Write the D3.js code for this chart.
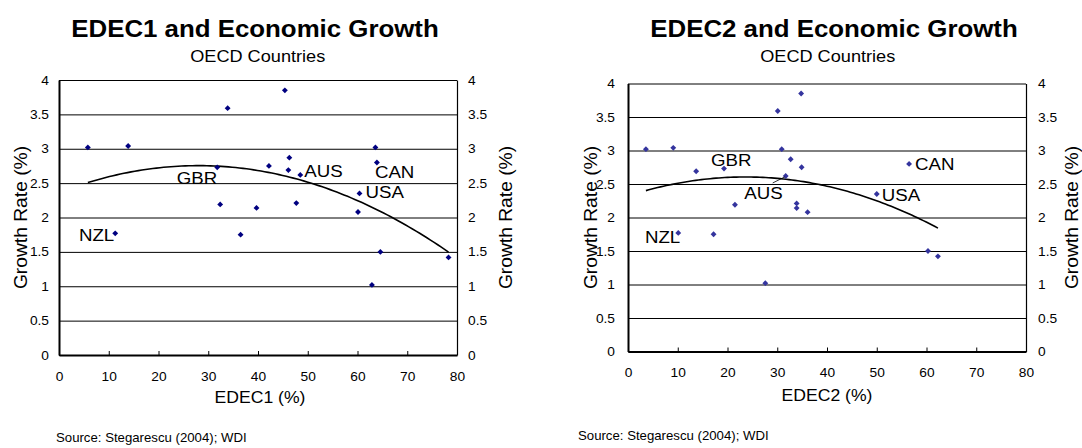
<!DOCTYPE html>
<html>
<head>
<meta charset="utf-8">
<script src="https://cdn.jsdelivr.net/npm/d3@7"></script>
<style>
  body { margin: 0; background: #fff; }
  svg { display: block; }
  text { font-family: "Liberation Sans", Arial, sans-serif; fill: #000; }
</style>
</head>
<body>
<script>
// Growth rate (%) per OECD country, same order in both panels
var growth = [3.02, 3.04, 3.59, 3.85, 2.73, 2.19, 2.14, 1.75, 2.75, 2.87, 2.69, 2.21, 1.77, 2.62, 3.02, 2.80, 2.35, 2.08, 1.50, 1.42, 1.02];
var edec1 = [5.8, 13.9, 33.9, 45.4, 31.8, 32.4, 39.7, 36.5, 42.2, 46.3, 46.1, 47.7, 11.3, 48.5, 63.6, 63.9, 60.4, 60.1, 64.6, 78.3, 62.9];
var edec2 = [3.6, 9.1, 30.1, 34.8, 19.3, 21.5, 33.9, 17.2, 34.9, 32.7, 13.7, 33.9, 10.1, 31.7, 30.9, 56.5, 50.0, 36.1, 60.3, 62.3, 27.6];
var country = ["", "", "", "", "GBR", "", "", "", "", "", "", "", "NZL", "AUS", "", "CAN", "USA", "", "", "", ""];

var xTicks = [0, 10, 20, 30, 40, 50, 60, 70, 80];
var yTicks = [0, 0.5, 1, 1.5, 2, 2.5, 3, 3.5, 4];

// text in the original is a little wider than Arial
var SX = 1.1;

var width = 1082, height = 448;

var svg = d3.select("body")
	.append("svg")
		.attr("width", width)
		.attr("height", height);

// Panel layout (positions only, the values come from the arrays above)
var panels = [
	{
		xs: edec1, title: "EDEC1 and Economic Growth", xLabel: "EDEC1 (%)",
		left: 59, right: 457, top: 80, bottom: 355, color: "#000080",
		titleX: 255, titleY: 37, subY: 62, xLabelX: 260, xLabelY: 403,
		yLabelL: 27, yLabelR: 512, sourceX: 56, sourceY: 442, padL: 10, padR: 11,
		labels: { NZL: [-1, 8, "end"], GBR: [0, 16.5, "end"], AUS: [4, 2, "start"], CAN: [-2, 15, "start"], USA: [6, 5, "start"] },
		leader: null
	},
	{
		xs: edec2, title: "EDEC2 and Economic Growth", xLabel: "EDEC2 (%)",
		left: 628, right: 1026, top: 83.5, bottom: 351.5, color: "#34349e",
		titleX: 834, titleY: 37, subY: 62, xLabelX: 827, xLabelY: 401,
		yLabelL: 597, yLabelR: 1078, sourceX: 578, sourceY: 440, padL: 13, padR: 12,
		labels: { NZL: [2, 10.5, "end"], GBR: [-13, -3, "start"], AUS: [-3, 23, "end"], CAN: [6, 6.5, "start"], USA: [5, 7, "start"] },
		leader: "AUS"
	}
];

function stretchText(g, x, y, str, size, anchor, rotate) {
	return g.append("text")
		.attr("transform", "translate(" + x + "," + y + ")" + (rotate ? " rotate(-90)" : "") + " scale(" + SX + ",1)")
		.attr("font-size", size)
		.attr("text-anchor", anchor)
		.text(str);
}

// quadratic least-squares trendline, like the spreadsheet's polynomial fit
function quadFit(xs, ys) {
	var s = [0, 0, 0, 0, 0], t = [0, 0, 0];
	xs.forEach(function(x, i) {
		var p = 1;
		for (var k = 0; k < 5; k++) { s[k] += p; if (k < 3) t[k] += p * ys[i]; p *= x; }
	});
	var m = [[s[0], s[1], s[2], t[0]], [s[1], s[2], s[3], t[1]], [s[2], s[3], s[4], t[2]]];
	for (var c = 0; c < 3; c++) {
		for (var r = c + 1; r < 3; r++) {
			var f = m[r][c] / m[c][c];
			for (var k = c; k < 4; k++) m[r][k] -= f * m[c][k];
		}
	}
	var b = [0, 0, 0];
	for (var r = 2; r >= 0; r--) {
		var v = m[r][3];
		for (var k = r + 1; k < 3; k++) v -= m[r][k] * b[k];
		b[r] = v / m[r][r];
	}
	return function(x) { return b[0] + b[1] * x + b[2] * x * x; };
}

panels.forEach(function(p) {
	var x = d3.scaleLinear().domain([0, 80]).range([p.left, p.right]);
	var y = d3.scaleLinear().domain([0, 4]).range([p.bottom, p.top]);
	var w = p.right - p.left;
	var g = svg.append("g");

	// titles
	stretchText(g, p.titleX, p.titleY, p.title, 23.5, "middle").attr("font-weight", "bold");
	stretchText(g, p.titleX - (p.titleX - (p.left + p.right) / 2) * 0.9, p.subY, "OECD Countries", 16.5, "middle");

	// gridlines
	g.append("g")
		.attr("transform", "translate(" + p.left + ",0)")
		.call(d3.axisLeft(y).tickValues(yTicks).tickSize(-w).tickFormat(""))
		.call(function(a) { a.select(".domain").remove(); })
		.selectAll("line").attr("stroke", "#000").attr("stroke-width", 1);

	// left axis
	var ya = g.append("g")
		.attr("transform", "translate(" + p.left + ",0)")
		.call(d3.axisLeft(y).tickValues(yTicks).tickSize(0).tickSizeOuter(0).tickPadding(p.padL).tickFormat(function(d) { return d; }));
	ya.select(".domain").attr("stroke", "#000").attr("stroke-width", 2);
	ya.selectAll("text").attr("font-size", 12.5).attr("font-family", null)
		.attr("transform", function() { return "translate(" + (-p.padL) + ",0) scale(" + SX + ",1)"; })
		.attr("x", 0);

	// right axis
	var yb = g.append("g")
		.attr("transform", "translate(" + p.right + ",0)")
		.call(d3.axisRight(y).tickValues(yTicks).tickSize(0).tickSizeOuter(0).tickPadding(p.padR).tickFormat(function(d) { return d; }));
	yb.select(".domain").attr("stroke", "#000").attr("stroke-width", 1.2);
	yb.selectAll("text").attr("font-size", 12.5).attr("font-family", null)
		.attr("transform", function() { return "translate(" + p.padR + ",0) scale(" + SX + ",1)"; })
		.attr("x", 0);

	// bottom axis, ticks pointing up into the plot
	var xa = g.append("g")
		.attr("transform", "translate(0," + p.bottom + ")")
		.call(d3.axisBottom(x).tickValues(xTicks).tickSizeInner(-4).tickSizeOuter(0).tickPadding(17));
	xa.select(".domain").attr("stroke", "#000").attr("stroke-width", 2);
	xa.selectAll("line").attr("stroke", "#000");
	xa.selectAll("text").attr("font-size", 12.5).attr("font-family", null)
		.attr("transform", "scale(" + SX + ",1)")
		.attr("x", 0);

	// axis titles
	stretchText(g, p.xLabelX, p.xLabelY, p.xLabel, 16, "middle");
	stretchText(g, p.yLabelL, (p.top + p.bottom) / 2, "Growth Rate (%)", 17.5, "middle", true);
	stretchText(g, p.yLabelR, (p.top + p.bottom) / 2, "Growth Rate (%)", 17.5, "middle", true);

	// trendline
	var fit = quadFit(p.xs, growth);
	var ext = d3.extent(p.xs);
	var curve = d3.range(0, 101).map(function(i) { var v = ext[0] + (ext[1] - ext[0]) * i / 100; return [v, fit(v)]; });
	g.append("path")
		.datum(curve)
		.attr("fill", "none")
		.attr("stroke", "#000")
		.attr("stroke-width", 1.6)
		.attr("d", d3.line().x(function(d) { return x(d[0]); }).y(function(d) { return y(d[1]); }));

	// points
	var pts = growth.map(function(gr, i) { return { x: p.xs[i], y: gr, name: country[i] }; });
	g.append("g")
		.selectAll("path")
		.data(pts)
		.enter().append("path")
			.attr("transform", function(d) { return "translate(" + x(d.x) + "," + y(d.y) + ")"; })
			.attr("d", d3.symbol().type(d3.symbolDiamond2 || d3.symbolDiamond).size(22))
			.attr("fill", p.color);

	// country labels
	pts.filter(function(d) { return d.name; }).forEach(function(d) {
		var o = p.labels[d.name];
		stretchText(g, x(d.x) + o[0], y(d.y) + o[1], d.name, 17, o[2]);
		if (p.leader === d.name) {
			g.append("line")
				.attr("x1", x(d.x) - 13).attr("y1", y(d.y) + 7)
				.attr("x2", x(d.x) - 1).attr("y2", y(d.y) + 1)
				.attr("stroke", "#000").attr("stroke-width", 0.8);
		}
	});

	// source note
	stretchText(g, p.sourceX, p.sourceY, "Source: Stegarescu (2004); WDI", 12, "start");
});
</script>
</body>
</html>
